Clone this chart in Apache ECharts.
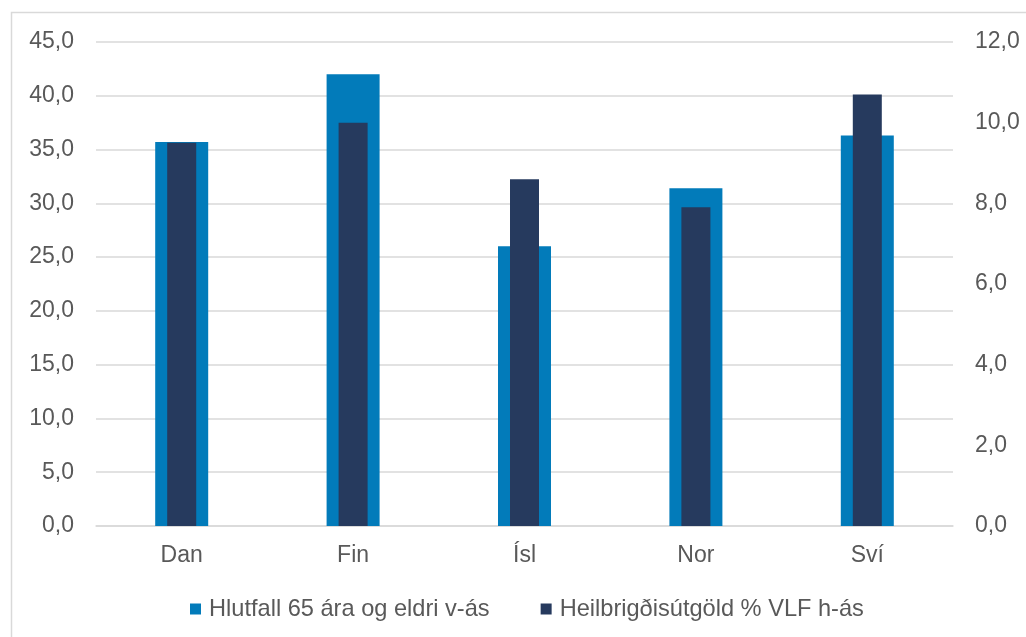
<!DOCTYPE html>
<html>
<head>
<meta charset="utf-8">
<script src="https://cdn.jsdelivr.net/npm/echarts@6/dist/echarts.min.js"></script>
<style>
html,body{margin:0;padding:0;background:#fff;overflow:hidden;}
#c{width:1026px;height:637px;}
</style>
</head>
<body>
<div id="c"></div>
<script>
const categories = ['Dan', 'Fin', 'Ísl', 'Nor', 'Sví'];
const share65 = [35.7, 42.0, 26.0, 31.4, 36.3];
const healthSpend = [9.5, 10.0, 8.6, 7.9, 10.7];
const seriesNames = ['Hlutfall 65 ára og eldri v-ás', 'Heilbrigðisútgöld % VLF h-ás'];

const fmt = v => v.toFixed(1).replace('.', ',');
const textColor = '#595959';
const fontFamily = '"Liberation Sans", Arial, sans-serif';
const fontSize = 23;

const chart = echarts.init(document.getElementById('c'), null, {renderer: 'canvas'});
chart.setOption({
  animation: false,
  backgroundColor: '#ffffff',
  textStyle: {fontFamily: fontFamily},
  graphic: [{
    type: 'polyline',
    silent: true,
    shape: {points: [[11.5, 640], [11.5, 12.5], [1030, 12.5]]},
    style: {stroke: '#D9D9D9', lineWidth: 1.5, fill: null}
  }],
  grid: {left: 96, right: 73, top: 42, bottom: 111, containLabel: false},
  legend: {
    left: 185, top: 592,
    itemWidth: 11, itemHeight: 11, itemGap: 51,
    icon: 'rect',
    textStyle: {color: textColor, fontSize: 23.6, fontFamily: fontFamily, padding: [0, 0, 0, 3]},
    data: seriesNames
  },
  xAxis: [{
    type: 'category',
    data: categories,
    axisLine: {show: true, lineStyle: {color: '#D9D9D9', width: 1.5}},
    axisTick: {show: false},
    axisLabel: {color: textColor, fontSize: fontSize, fontFamily: fontFamily, margin: 18}
  }, {
    type: 'category',
    data: categories,
    show: false
  }],
  yAxis: [{
    type: 'value', min: 0, max: 45, interval: 5,
    axisLine: {show: false}, axisTick: {show: false},
    splitLine: {lineStyle: {color: '#D9D9D9', width: 1.5}},
    axisLabel: {color: textColor, fontSize: fontSize, fontFamily: fontFamily, margin: 22, formatter: fmt}
  }, {
    type: 'value', min: 0, max: 12, interval: 2,
    axisLine: {show: false}, axisTick: {show: false},
    splitLine: {show: false},
    axisLabel: {color: textColor, fontSize: fontSize, fontFamily: fontFamily, margin: 22, formatter: fmt}
  }],
  series: [{
    name: seriesNames[0],
    type: 'bar',
    xAxisIndex: 0, yAxisIndex: 0,
    barWidth: 53,
    data: share65,
    itemStyle: {color: '#027BBA'},
    z: 2
  }, {
    name: seriesNames[1],
    type: 'bar',
    xAxisIndex: 1, yAxisIndex: 1,
    barWidth: 29,
    data: healthSpend,
    itemStyle: {color: '#263A5E'},
    z: 3
  }]
});
</script>
</body>
</html>
